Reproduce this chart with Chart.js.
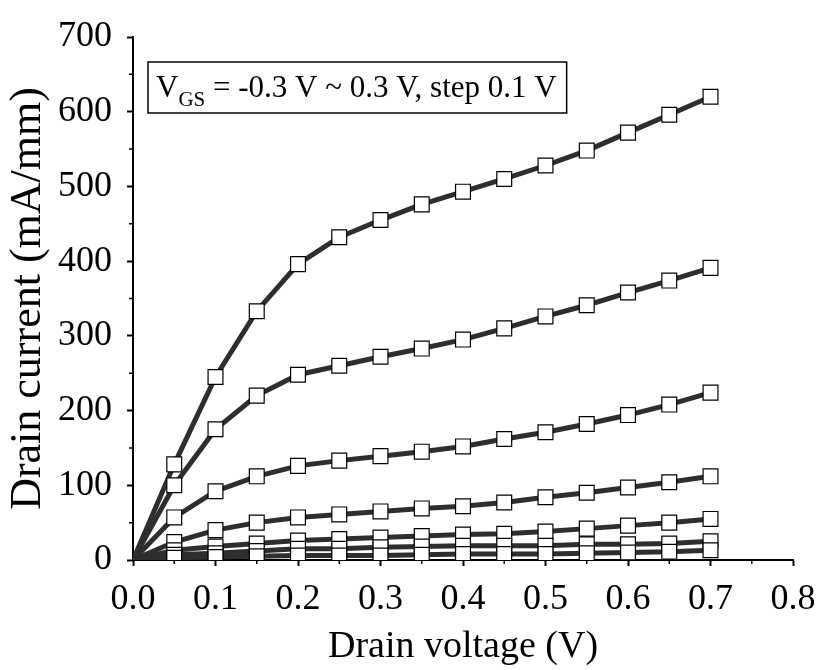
<!DOCTYPE html>
<html>
<head>
<meta charset="utf-8">
<script src="https://cdn.jsdelivr.net/npm/chart.js@4"></script>
<style>
  html, body { margin: 0; padding: 0; background: #fff; }
  #wrap { width: 819px; height: 670px; }
</style>
</head>
<body>
<div id="wrap"><canvas id="ivChart"></canvas></div>
<script>
// drain voltage sweep (V)
const drainVoltage = [0, 0.05, 0.1, 0.15, 0.2, 0.25, 0.3, 0.35, 0.4, 0.45, 0.5, 0.55, 0.6, 0.65, 0.7];

// drain current (mA/mm) for each gate voltage
const vgsLabels = ['-0.3 V', '-0.2 V', '-0.1 V', '0.0 V', '0.1 V', '0.2 V', '0.3 V'];
const idVgsM03 = [0, 3, 4, 5, 6, 6, 6, 7, 8, 8, 8, 9, 10, 11, 13];
const idVgsM02 = [0, 7, 9, 12, 15, 15, 17, 18, 19, 19, 19, 21, 21, 22, 25];
const idVgsM01 = [0, 13, 18, 22, 26, 28, 30, 32, 34, 35, 38, 42, 46, 50, 55];
const idVgs00 = [0, 24, 40, 50, 57, 61, 65, 69, 72, 77, 84, 90, 97, 104, 112];
const idVgs01 = [0, 57, 92, 112, 126, 133, 139, 145, 152, 162, 171, 182, 194, 208, 224];
const idVgs02 = [0, 100, 175, 220, 248, 260, 272, 283, 295, 310, 326, 341, 358, 374, 391];
const idVgs03 = [0, 128, 245, 333, 396, 432, 455, 476, 493, 510, 528, 548, 572, 596, 620];

const allCurves = [idVgsM03, idVgsM02, idVgsM01, idVgs00, idVgs01, idVgs02, idVgs03];

const serif = "'Liberation Serif', 'Times New Roman', serif";

// minor ticks halfway between the major ones
const minorTicks = {
  id: 'minorTicks',
  afterDraw(chart) {
    const ctx = chart.ctx;
    const x = chart.scales.x, y = chart.scales.y;
    ctx.save();
    ctx.strokeStyle = '#000';
    ctx.lineWidth = 1.5;
    ctx.beginPath();
    for (let v = 0.05; v < 0.8; v += 0.1) {
      const px = x.getPixelForValue(v);
      ctx.moveTo(px, chart.chartArea.bottom);
      ctx.lineTo(px, chart.chartArea.bottom + 4);
    }
    for (let v = 50; v < 700; v += 100) {
      const py = y.getPixelForValue(v);
      ctx.moveTo(chart.chartArea.left, py);
      ctx.lineTo(chart.chartArea.left - 4, py);
    }
    ctx.stroke();
    ctx.restore();
  }
};

// boxed note in the upper left
const noteBox = {
  id: 'noteBox',
  afterDraw(chart) {
    const ctx = chart.ctx;
    const area = chart.chartArea;
    const left = area.left + 15, top = area.top + 25;
    const main = '31px ' + serif, sub = '21px ' + serif;
    const rest = ' = -0.3 V ~ 0.3 V, step 0.1 V';
    ctx.save();
    ctx.font = main;
    const wV = ctx.measureText('V').width;
    const wRest = ctx.measureText(rest).width;
    ctx.font = sub;
    const wGS = ctx.measureText('GS').width;
    const w = wV + wGS + wRest + 18, h = 51;
    ctx.strokeStyle = '#000';
    ctx.lineWidth = 1.5;
    ctx.strokeRect(left, top, w, h);
    ctx.fillStyle = '#000';
    ctx.textBaseline = 'alphabetic';
    ctx.font = main;
    ctx.fillText('V', left + 8, top + 35);
    ctx.font = sub;
    ctx.fillText('GS', left + 8 + wV, top + 44);
    ctx.font = main;
    ctx.fillText(rest, left + 8 + wV + wGS, top + 35);
    ctx.restore();
  }
};

const ctx = document.getElementById('ivChart').getContext('2d');
new Chart(ctx, {
  type: 'line',
  data: {
    datasets: allCurves.map((curve, i) => ({
      label: 'VGS = ' + vgsLabels[i],
      data: curve.map((v, j) => ({ x: drainVoltage[j], y: v })),
      borderColor: '#2e2e2e',
      borderWidth: 5,
      tension: 0,
      pointStyle: 'rect',
      pointRadius: c => c.dataIndex === 0 ? 0 : 10.5,
      pointBackgroundColor: '#fff',
      pointBorderColor: '#000',
      pointBorderWidth: 1.2
    }))
  },
  options: {
    responsive: true,
    maintainAspectRatio: false,
    animation: false,
    layout: { padding: { top: 37, right: 26, left: 0, bottom: 0 } },
    plugins: {
      legend: { display: false },
      tooltip: { enabled: false }
    },
    scales: {
      x: {
        type: 'linear',
        min: 0,
        max: 0.8,
        border: { color: '#000', width: 2 },
        grid: { drawOnChartArea: false, drawTicks: true, tickLength: 6, tickWidth: 2, tickColor: '#000' },
        ticks: {
          stepSize: 0.1,
          color: '#000',
          padding: 12,
          font: { family: serif, size: 36 },
          callback: v => v.toFixed(1)
        },
        title: {
          display: true,
          text: 'Drain voltage (V)',
          color: '#000',
          font: { family: serif, size: 38 },
          padding: { top: 0, bottom: 0 }
        },
        afterFit: s => { s.height = 110; s.paddingLeft = 0; s.paddingRight = 0; }
      },
      y: {
        min: 0,
        max: 700,
        border: { color: '#000', width: 2 },
        grid: { drawOnChartArea: false, drawTicks: true, tickLength: 6, tickWidth: 2, tickColor: '#000' },
        ticks: {
          stepSize: 100,
          color: '#000',
          padding: 15,
          font: { family: serif, size: 36 }
        },
        title: {
          display: true,
          text: 'Drain current (mA/mm)',
          color: '#000',
          font: { family: serif, size: 44 },
          padding: { top: 2, bottom: 0 }
        },
        afterFit: s => { s.width = 133; s.paddingTop = 0; s.paddingBottom = 0; }
      }
    }
  },
  plugins: [minorTicks, noteBox]
});
</script>
</body>
</html>
